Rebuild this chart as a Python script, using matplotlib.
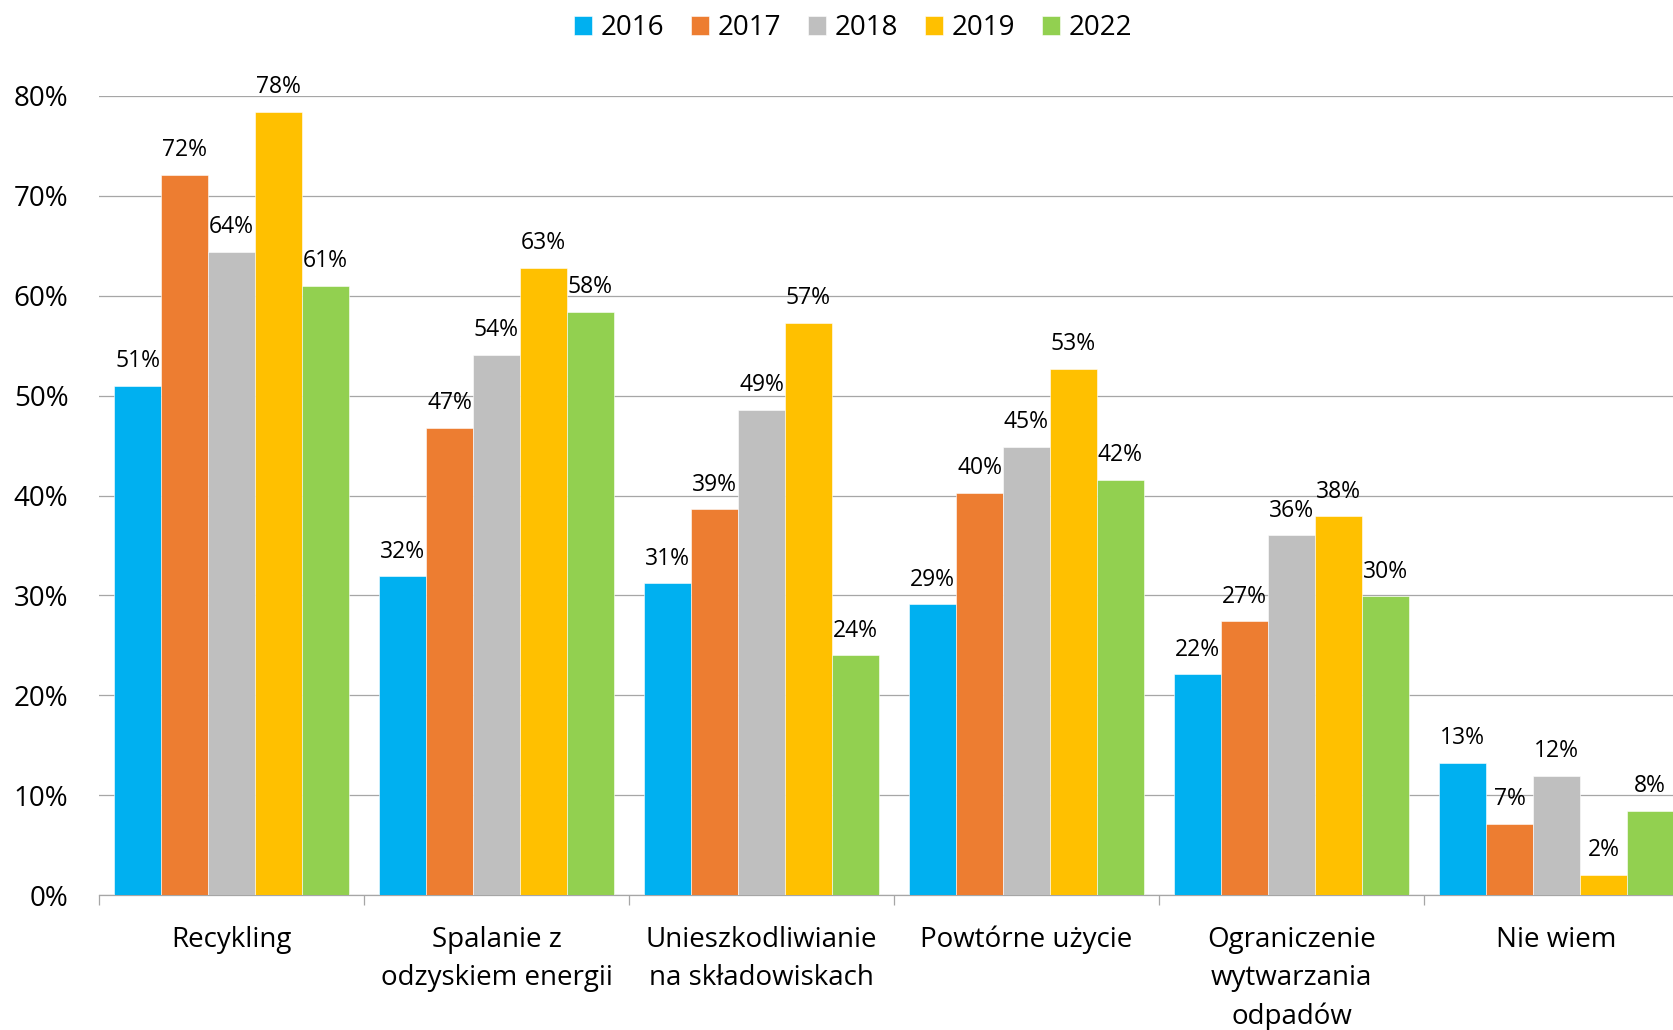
import matplotlib
matplotlib.use("Agg")
import matplotlib.pyplot as plt
import numpy as np

categories = ["Recykling", "Spalanie z\nodzyskiem energii", "Unieszkodliwianie\nna składowiskach",
              "Powtórne użycie", "Ograniczenie\nwytwarzania\nodpadów", "Nie wiem"]
years = ["2016", "2017", "2018", "2019", "2022"]
v2016 = [51.0, 31.9, 31.2, 29.1, 22.1, 13.2]
v2017 = [72.1, 46.8, 38.6, 40.3, 27.4, 7.1]
v2018 = [64.4, 54.1, 48.6, 44.9, 36.0, 11.9]
v2019 = [78.4, 62.8, 57.3, 52.7, 37.9, 2.0]
v2022 = [61.0, 58.4, 24.0, 41.6, 29.9, 8.4]
series = [v2016, v2017, v2018, v2019, v2022]
colors = ["#00B0F0", "#ED7D31", "#BFBFBF", "#FFC000", "#92D050"]
yticks = [0, 10, 20, 30, 40, 50, 60, 70, 80]

fig = plt.figure(figsize=(16.73, 10.30), dpi=100)
ax = fig.add_axes([99/1673, 135/1030, (1689-99)/1673, (895-96)/1030])

x = np.arange(len(categories))
bw = 0.177
for i, (vals, col, yr) in enumerate(zip(series, colors, years)):
    pos = x + (i - 2) * bw
    ax.bar(pos, vals, bw, color=col, label=yr, zorder=3, edgecolor="white", linewidth=0.4)
    for p, v in zip(pos, vals):
        ax.annotate(f"{v:.0f}%", (p, v), xytext=(0, 13.5), textcoords="offset points",
                    ha="center", va="baseline", fontsize=16.5, family="Open Sans",
                    color="#000000", annotation_clip=False, zorder=4)

ax.set_xlim(-0.5, len(categories) - 0.5)
ax.set_ylim(0, 80)
ax.set_yticks(yticks)
ax.tick_params(axis="y", length=0, pad=22, labelsize=20)
ax.set_yticklabels([f"{t}%" for t in yticks], fontsize=20, family="Open Sans")
ax.yaxis.grid(True, color="#A6A6A6", linewidth=0.9, zorder=0)
ax.set_axisbelow(True)

ax.set_xticks(x)
ax.set_xticks(np.arange(-0.5, len(categories), 1.0), minor=True)
ax.tick_params(axis="x", which="major", length=0, pad=22)
ax.tick_params(axis="x", which="minor", length=7, color="#A6A6A6", width=0.9)
ax.set_xticklabels(categories, fontsize=20, family="Open Sans", linespacing=1.5, va="top")

for s in ["top", "right", "left"]:
    ax.spines[s].set_visible(False)
ax.spines["bottom"].set_color("#A6A6A6")
ax.spines["bottom"].set_linewidth(0.9)

leg = fig.legend(loc="center", bbox_to_anchor=(853/1673, 1 - 28/1030), ncol=5, frameon=False,
                 prop={"family": "Open Sans", "size": 20}, handlelength=0.65, handleheight=0.65,
                 handletextpad=0.3, columnspacing=0.97)

fig.savefig("out.png", dpi=100)
